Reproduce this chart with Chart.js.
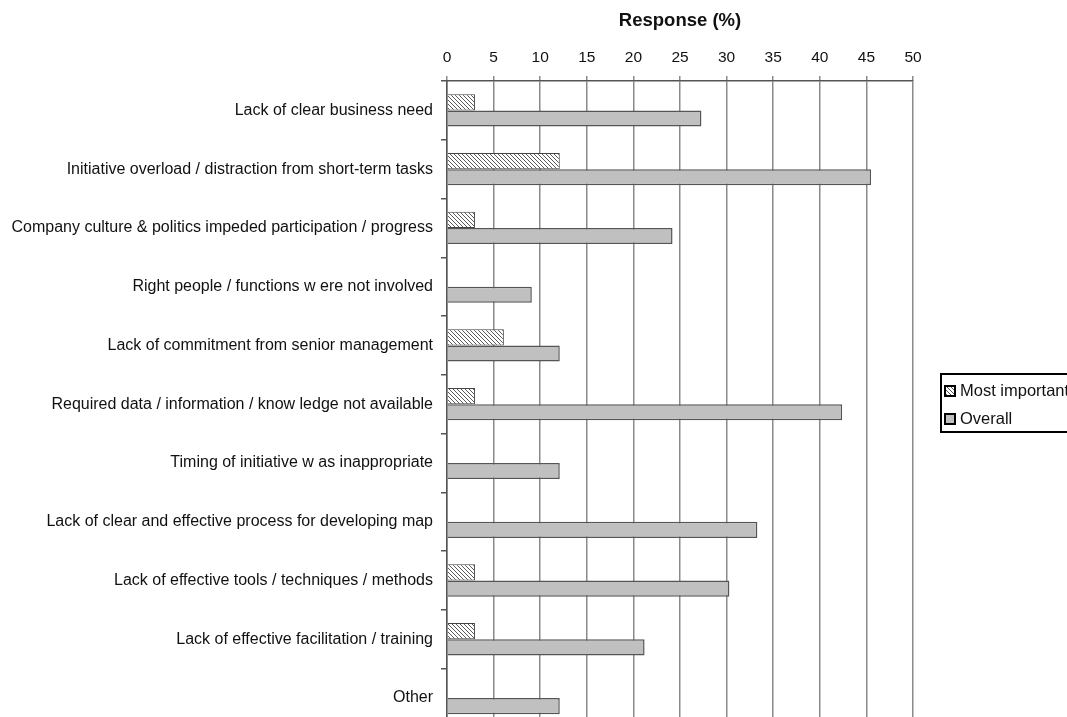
<!DOCTYPE html>
<html>
<head>
<meta charset="utf-8">
<script src="https://cdn.jsdelivr.net/npm/chart.js@4"></script>
<style>
    html, body { margin: 0; padding: 0; background: #fff; overflow: hidden; }
    #wrap { position: relative; width: 1067px; height: 745px; }
</style>
</head>
<body>
<div id="wrap"><canvas id="chart"></canvas></div>
<script>
const categories = [
    'Lack of clear business need',
    'Initiative overload / distraction from short-term tasks',
    'Company culture & politics impeded participation / progress',
    'Right people / functions w ere not involved',
    'Lack of commitment from senior management',
    'Required data / information / know ledge not available',
    'Timing of initiative w as inappropriate',
    'Lack of clear and effective process for developing map',
    'Lack of effective tools / techniques / methods',
    'Lack of effective facilitation / training',
    'Other'
];
const mostImportant = [3.0, 12.1, 3.0, 0, 6.1, 3.0, 0, 0, 3.0, 3.0, 0];
const overall = [27.3, 45.5, 24.2, 9.1, 12.1, 42.4, 12.1, 33.3, 30.3, 21.2, 12.1];
const seriesNames = ['Most important', 'Overall'];
const xTicks = { min: 0, max: 50, step: 5 };
const axisTitle = 'Response (%)';

(function () {
    'use strict';

    const FONT = '"Liberation Sans", Arial, sans-serif';
    const GREY = '#c0c0c0';

    // diagonal "\" hatching like the old Excel pattern fill
    const makeHatch = function () {
        const c = document.createElement('canvas');
        c.width = 4;
        c.height = 4;
        const g = c.getContext('2d');
        g.fillStyle = '#fff';
        g.fillRect(0, 0, 4, 4);
        g.strokeStyle = '#5a5a5a';
        g.lineWidth = 1;
        g.beginPath();
        g.moveTo(-1, -1);
        g.lineTo(5, 5);
        g.moveTo(-1, 3);
        g.lineTo(1, 5);
        g.moveTo(3, -1);
        g.lineTo(5, 1);
        g.stroke();
        return g.createPattern(c, 'repeat');
    };

    const hatch = makeHatch();

    const boxLegend = {
        id: 'boxLegend',
        afterDraw(chart) {
            const ctx = chart.ctx;
            const x = 941, y = 374, w = 140, h = 58;
            ctx.save();
            ctx.fillStyle = '#fff';
            ctx.fillRect(x, y, w, h);
            ctx.strokeStyle = '#000';
            ctx.lineWidth = 2;
            ctx.strokeRect(x, y, w, h);
            const fills = [hatch, GREY];
            ctx.font = '16.5px ' + FONT;
            ctx.textBaseline = 'middle';
            seriesNames.forEach((name, i) => {
                const cy = y + 17 + i * 28;
                ctx.fillStyle = fills[i];
                ctx.fillRect(x + 4, cy - 5, 10, 10);
                ctx.strokeStyle = '#000';
                ctx.lineWidth = 2;
                ctx.strokeRect(x + 4, cy - 5, 10, 10);
                ctx.fillStyle = '#111';
                ctx.fillText(name, x + 19, cy);
            });
            ctx.restore();
        }
    };

    new Chart(document.getElementById('chart'), {
        type: 'bar',
        data: {
            labels: categories,
            datasets: [
                {
                    label: seriesNames[0],
                    data: mostImportant,
                    backgroundColor: hatch,
                    borderColor: '#444',
                    borderWidth: 1
                },
                {
                    label: seriesNames[1],
                    data: overall,
                    backgroundColor: GREY,
                    borderColor: '#555',
                    borderWidth: 1.5
                }
            ]
        },
        options: {
            indexAxis: 'y',
            responsive: true,
            maintainAspectRatio: false,
            animation: false,
            layout: { padding: { left: 0, right: 154, top: 0, bottom: 14 } },
            datasets: { bar: { categoryPercentage: 0.55, barPercentage: 1 } },
            plugins: { legend: { display: false }, tooltip: { enabled: false } },
            scales: {
                x: {
                    position: 'top',
                    min: xTicks.min,
                    max: xTicks.max,
                    ticks: { stepSize: xTicks.step, color: '#111', padding: 9, font: { family: FONT, size: 15.5 } },
                    grid: { color: '#8a8a8a', lineWidth: 1.5, tickLength: 5 },
                    border: { display: true, color: '#555', width: 1.5 },
                    title: {
                        display: true,
                        text: axisTitle,
                        color: '#111',
                        padding: { top: 10, bottom: 12 },
                        font: { family: FONT, size: 18.5, weight: 'bold' }
                    },
                    afterFit(scale) { scale.height = 81; }
                },
                y: {
                    ticks: { color: '#111', padding: 8, font: { family: FONT, size: 16 } },
                    grid: { offset: true, drawOnChartArea: false, drawTicks: true, tickLength: 6, color: '#555', lineWidth: 1.5 },
                    border: { display: true, color: '#555', width: 1.5 },
                    afterFit(scale) { scale.width = 447; }
                }
            }
        },
        plugins: [boxLegend]
    });
})();
</script>
</body>
</html>
